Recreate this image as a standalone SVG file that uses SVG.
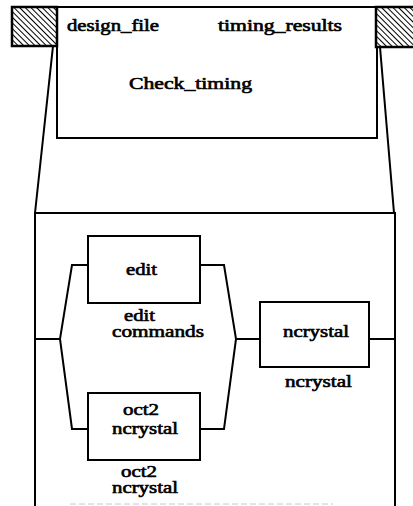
<svg xmlns="http://www.w3.org/2000/svg" width="413" height="506" viewBox="0 0 413 506">
  <style>
    .box { fill: #fff; stroke: #000; stroke-width: 2; }
    .wire { fill: none; stroke: #000; stroke-width: 2; stroke-linejoin: miter; }
    .port { fill: url(#hatch); stroke: #000; stroke-width: 2.5; }
    .lbl { font-family: "Liberation Serif", "Times New Roman", serif; font-size: 16px; fill: #000; stroke: #000; stroke-width: 0.6; }
  </style>
  <defs>
    <pattern id="hatch" width="4" height="4" patternUnits="userSpaceOnUse" patternTransform="rotate(-45)">
      <rect width="4" height="4" fill="#fff"/>
      <line x1="0" y1="0" x2="0" y2="4" stroke="#000" stroke-width="2"/>
    </pattern>
  </defs>

  <!-- outer module with its two ports -->
  <g id="check_timing">
    <rect class="box" x="57" y="7" width="320" height="131"/>
    <line x1="12" y1="7" x2="413" y2="7" stroke="#000" stroke-width="2"/>
    <text class="lbl" x="67" y="31" font-size="17" textLength="92" lengthAdjust="spacingAndGlyphs">design_file</text>
    <text class="lbl" x="218" y="31" font-size="17" textLength="124" lengthAdjust="spacingAndGlyphs">timing_results</text>
    <text class="lbl" x="129" y="89" font-size="18" textLength="123" lengthAdjust="spacingAndGlyphs">Check_timing</text>
  </g>
  <g id="port_design_file">
    <rect class="port" x="12" y="7" width="45" height="39"/>
  </g>
  <g id="port_timing_results">
    <rect class="port" x="376" y="7" width="40" height="40"/>
  </g>

  <!-- expansion view -->
  <g id="expansion">
    <line class="wire" x1="53" y1="46" x2="35" y2="213"/>
    <line class="wire" x1="380" y1="47" x2="394" y2="213"/>
    <path class="wire" d="M35,506 V213 H395 V506"/>
    <line x1="70" y1="504" x2="333" y2="504" stroke="#c8c8c8" stroke-width="1" stroke-dasharray="6 3"/>
  </g>

  <!-- connectors -->
  <g id="connectors">
    <path class="wire" d="M35,339 H60 L72,265 H88"/>
    <path class="wire" d="M60,339 L72,429 H88"/>
    <path class="wire" d="M200,265 H224 L236,339 H260"/>
    <path class="wire" d="M200,429 H224 L236,339"/>
    <path class="wire" d="M369,339 H395"/>
  </g>

  <g id="edit">
    <rect class="box" x="88" y="236" width="112" height="67"/>
    <text class="lbl" x="126" y="275" textLength="31" lengthAdjust="spacingAndGlyphs">edit</text>
    <text class="lbl" x="124" y="321" font-size="14" textLength="31" lengthAdjust="spacingAndGlyphs">edit</text>
    <text class="lbl" x="112" y="337" font-size="14" textLength="92" lengthAdjust="spacingAndGlyphs">commands</text>
  </g>

  <g id="ncrystal">
    <rect class="box" x="260" y="302" width="109" height="65"/>
    <text class="lbl" x="283" y="337" textLength="66" lengthAdjust="spacingAndGlyphs">ncrystal</text>
    <text class="lbl" x="285" y="387" textLength="67" lengthAdjust="spacingAndGlyphs">ncrystal</text>
  </g>

  <g id="oct2_ncrystal">
    <rect class="box" x="88" y="393" width="112" height="67"/>
    <text class="lbl" x="123" y="415" textLength="36" lengthAdjust="spacingAndGlyphs">oct2</text>
    <text class="lbl" x="112" y="434" textLength="66" lengthAdjust="spacingAndGlyphs">ncrystal</text>
    <text class="lbl" x="121" y="477" textLength="36" lengthAdjust="spacingAndGlyphs">oct2</text>
    <text class="lbl" x="112" y="493" textLength="66" lengthAdjust="spacingAndGlyphs">ncrystal</text>
  </g>
</svg>
